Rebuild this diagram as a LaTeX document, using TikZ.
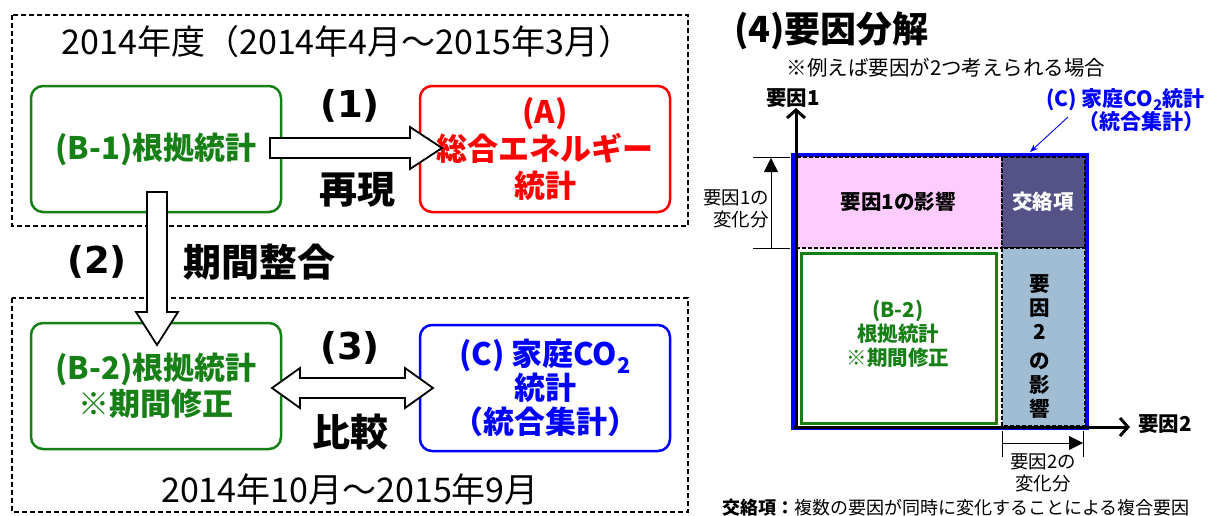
\documentclass[tikz,border=0pt]{standalone}
\usepackage{fontspec}
\setmainfont{Noto Sans CJK JP}
\newfontfamily\dvfont{DejaVu Sans}
\usetikzlibrary{arrows.meta,calc}
\definecolor{grn}{RGB}{22,128,22}
\definecolor{rd}{RGB}{255,0,0}
\definecolor{bl}{RGB}{0,0,255}
\definecolor{pinkf}{RGB}{255,204,255}
\definecolor{purpf}{RGB}{85,82,135}
\definecolor{lbluef}{RGB}{160,189,211}
\begin{document}
\begin{tikzpicture}[x=1pt,y=-1pt,
  dashbox/.style={draw, line width=1.5pt, dash pattern=on 5pt off 3pt},
  rbox/.style={draw, line width=2.5pt, rounded corners=12pt, minimum width=250pt, minimum height=126pt, align=center, inner sep=0pt, font=\fontsize{31}{37}\selectfont\bfseries},
  blk/.style={draw, fill=white, line width=1.8pt, line join=miter},
  ttl/.style={font=\fontsize{34}{40}\selectfont, inner sep=0pt},
  lbl/.style={font=\fontsize{38}{44}\selectfont\bfseries, inner sep=0pt},
  num/.style={font=\dvfont\fontsize{37}{44}\selectfont\bfseries, inner sep=0pt},
  smb/.style={font=\fontsize{20.5}{24}\selectfont\bfseries, inner sep=0pt, align=center},
  dimtxt/.style={font=\fontsize{18.5}{22}\selectfont, inner sep=0pt, align=right},
]
\useasboundingbox (0,0) rectangle (1208,515);
% ---------- left part ----------
\draw[dashbox] (12,15) rectangle (688,226);
\draw[dashbox] (12,298) rectangle (688,512);
\node[ttl] (t1) at (347,42) {2014年度（2014年4月～2015年3月）};
\node[ttl] (t2) at (350,490) {2014年10月～2015年9月};

\node[rbox, draw=grn, text=grn] (b1) at (156,149) {(B-1)根拠統計};
\node[rbox, draw=rd, text=rd] (a) at (545,149) {(A)\\総合エネルギー\\統計};
\node[rbox, draw=grn, text=grn, font=\fontsize{31}{36}\selectfont\bfseries] (b2) at (156,386) {(B-2)根拠統計\\※期間修正};
\node[rbox, draw=bl, text=bl, font=\fontsize{31}{34}\selectfont\bfseries] (c) at (545,388) {(C) 家庭CO\textsubscript{2}\\統計\\（統合集計）};

\coordinate (a1s) at (270,148);
\coordinate (a1e) at (442,148);
\draw[blk] (a1s) ++(0,-10) -- ++(140,0) -- ++(0,-11) -- (a1e) -- ++(-32,21) -- ++(0,-11) -- ++(-140,0) -- cycle;
\coordinate (a2s) at (157,192);
\coordinate (a2e) at (157,345);
\draw[blk] (a2s) ++(-10,0) -- ++(0,120) -- ++(-11,0) -- (a2e) -- ++(21,-33) -- ++(-11,0) -- ++(0,-120) -- cycle;
\coordinate (a3s) at (272,388);
\coordinate (a3e) at (433,388);
\draw[blk] (a3s) -- ++(28,-20) -- ++(0,10) -- ++(105,0) -- ++(0,-10) -- (a3e) -- ++(-28,20) -- ++(0,-10) -- ++(-105,0) -- ++(0,10) -- cycle;

\node[num] (l1) at (350,106) {(1)};
\node[lbl] (l1b) at (357,190) {再現};
\node[num] (l2) at (97,262) {(2)};
\node[lbl] (l2b) at (259,262) {期間整合};
\node[num] (l3) at (350,348) {(3)};
\node[lbl] (l3b) at (350,432) {比較};

% ---------- right part ----------
\node[font=\fontsize{36}{40}\selectfont\bfseries, inner sep=0pt, anchor=west] (h4) at (734,31) {(4)要因分解};
\node[font=\fontsize{20.5}{24}\selectfont, inner sep=0pt] (h4s) at (946,68) {※例えば要因が2つ考えられる場合};

\draw[bl, line width=4pt] (793,155) rectangle (1087,428);
\draw[fill=pinkf, line width=1.2pt, dash pattern=on 4pt off 2pt] (797,157) rectangle (1002,248);
\draw[fill=purpf, line width=1.2pt, dash pattern=on 4pt off 2pt] (1002,157) rectangle (1085,248);
\draw[fill=lbluef, line width=1.2pt, dash pattern=on 4pt off 2pt] (1002,248) rectangle (1085,426);
\draw[grn, fill=white, line width=3pt] (801,253) rectangle (996,423);

\node[smb] (f1) at (898,202) {要因1の影響};
\node[smb, text=white] (kr) at (1043,202) {交絡項};
\node[smb] (f2) at (1040,347) {要\\因\\2\\[5pt]の\\影\\響};
\node[smb, text=grn] (b2s) at (898,334) {(B-2)\\根拠統計\\※期間修正};

% axes
\coordinate (o) at (796,427);
\coordinate (yax) at (796,108);
\coordinate (xax) at (1130,427);
\draw[line width=3pt, -{Straight Barb[length=8pt,width=18pt]}] ([yshift=-2pt]o) -- (yax);
\draw[line width=3pt, -{Straight Barb[length=8pt,width=18pt]}] ([xshift=-2pt]o) -- (xax);
\node[smb] (y1) at (793,98) {要因1};
\node[smb] (x2) at (1165,424) {要因2};

% dimensions
\draw[line width=0.8pt] (753,157) -- (790,157);
\draw[line width=0.8pt] (753,248) -- (790,248);
\coordinate (d1a) at (771,248);
\coordinate (d1b) at (771,158);
\draw[line width=0.8pt, -{Triangle[length=14pt,width=14pt]}] (d1a) -- (d1b);
\node[dimtxt, anchor=east] (d1t) at (769,209) {要因1の\\変化分};
\draw[line width=0.8pt] (1002,431) -- (1002,457);
\draw[line width=0.8pt] (1083,431) -- (1083,457);
\coordinate (d2a) at (1002,443);
\coordinate (d2b) at (1083,443);
\draw[line width=0.8pt, -{Triangle[length=14pt,width=14pt]}] (d2a) -- (d2b);
\node[dimtxt, align=center] (d2t) at (1043,473) {要因2の\\変化分};

% C label
\node[smb, text=bl, align=right, anchor=east, font=\fontsize{21}{23}\selectfont\bfseries] (cl) at (1205,110) {(C) 家庭CO\textsubscript{2}統計\\（統合集計）};
\coordinate (cle) at (1030,152);
\draw[bl, line width=0.9pt, -{Stealth[length=8pt,width=6pt]}] (1068,117) -- (cle);

\node[font=\fontsize{18}{22}\selectfont, inner sep=0pt] (note) at (956,508) {\textbf{交絡項：}複数の要因が同時に変化することによる複合要因};
\end{tikzpicture}
\end{document}
